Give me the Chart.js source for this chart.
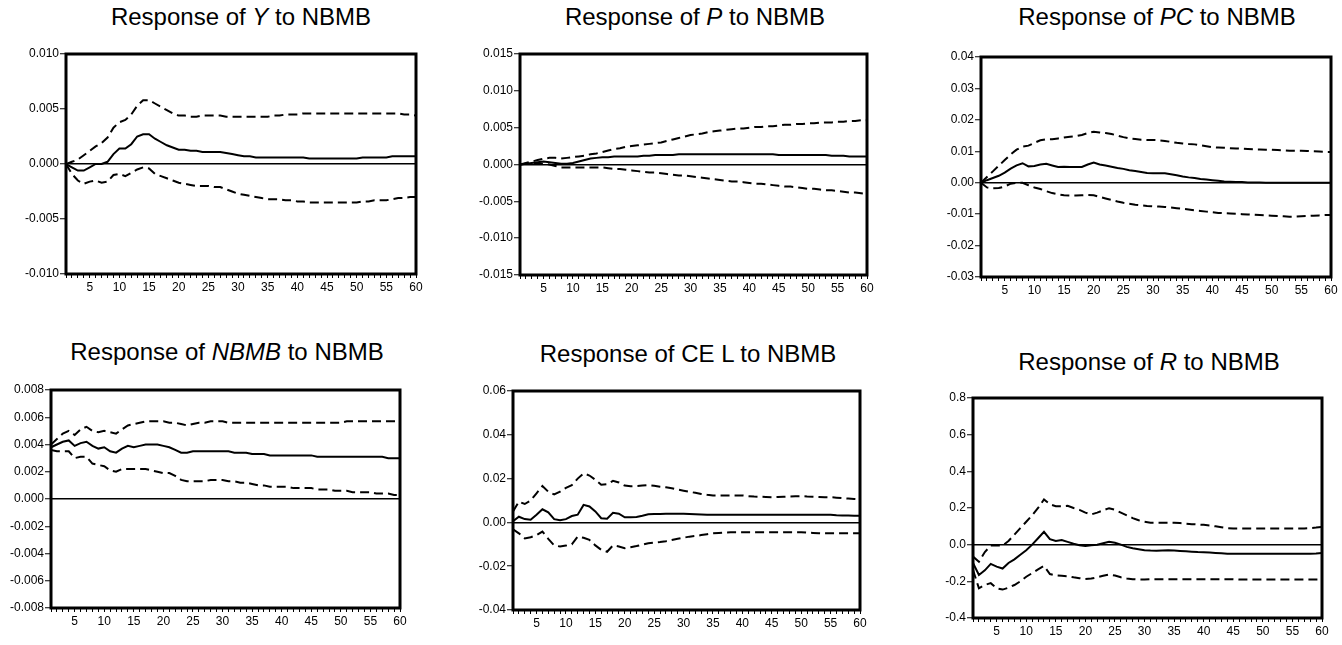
<!DOCTYPE html>
<html>
<head>
<meta charset="utf-8">
<script src="https://cdn.jsdelivr.net/npm/chart.js@4"></script>
<style>
  body { margin: 0; background: #fff; }
  #wrap { position: relative; width: 1342px; height: 645px; overflow: hidden; }
  canvas { position: absolute; }
  .naslov {
    position: absolute; width: 420px; text-align: center;
    font-family: "Liberation Sans", Arial, sans-serif; font-size: 24px;
    line-height: 28px; color: #000; white-space: nowrap;
  }
</style>
</head>
<body>
<div id="wrap"></div>
<script>
// horizon (periods after the shock)
const periods = [
  1, 2, 3, 4, 5, 6, 7, 8, 9, 10, 11, 12, 13, 14, 15, 16, 17, 18, 19, 20,
  21, 22, 23, 24, 25, 26, 27, 28, 29, 30, 31, 32, 33, 34, 35, 36, 37, 38, 39, 40,
  41, 42, 43, 44, 45, 46, 47, 48, 49, 50, 51, 52, 53, 54, 55, 56, 57, 58, 59, 60]

// Y
const respY = [
  0, -0.0003, -0.0006, -0.0006, -0.0003, 0.0000, 0.0000, 0.0002, 0.0009, 0.0014,
  0.0014, 0.0018, 0.0025, 0.0027, 0.0027, 0.0023, 0.0020, 0.0017, 0.0015, 0.0013,
  0.0013, 0.0012, 0.0012, 0.0011, 0.0011, 0.0011, 0.0011, 0.0010, 0.0009, 0.0008,
  0.0007, 0.0007, 0.0006, 0.0006, 0.0006, 0.0006, 0.0006, 0.0006, 0.0006, 0.0006,
  0.0006, 0.0005, 0.0005, 0.0005, 0.0005, 0.0005, 0.0005, 0.0005, 0.0005, 0.0005,
  0.0006, 0.0006, 0.0006, 0.0006, 0.0006, 0.0007, 0.0007, 0.0007, 0.0007, 0.0007]
const hiY = [
  0, 0.0002, 0.0004, 0.0008, 0.0012, 0.0016, 0.0019, 0.0024, 0.0033, 0.0038,
  0.0040, 0.0045, 0.0053, 0.0058, 0.0058, 0.0055, 0.0052, 0.0049, 0.0046, 0.0044,
  0.0044, 0.0043, 0.0043, 0.0044, 0.0044, 0.0044, 0.0044, 0.0043, 0.0043, 0.0043,
  0.0043, 0.0043, 0.0043, 0.0043, 0.0043, 0.0044, 0.0044, 0.0045, 0.0045, 0.0045,
  0.0046, 0.0046, 0.0046, 0.0046, 0.0046, 0.0046, 0.0046, 0.0046, 0.0046, 0.0046,
  0.0046, 0.0046, 0.0046, 0.0046, 0.0046, 0.0046, 0.0046, 0.0045, 0.0045, 0.0044]
const loY = [
  0, -0.0009, -0.0015, -0.0018, -0.0016, -0.0015, -0.0017, -0.0016, -0.0010, -0.0009,
  -0.0011, -0.0008, -0.0005, -0.0003, -0.0004, -0.0009, -0.0011, -0.0013, -0.0015, -0.0017,
  -0.0018, -0.0019, -0.0020, -0.0020, -0.0020, -0.0021, -0.0021, -0.0023, -0.0025, -0.0027,
  -0.0028, -0.0029, -0.0030, -0.0031, -0.0032, -0.0032, -0.0032, -0.0033, -0.0033, -0.0034,
  -0.0034, -0.0035, -0.0035, -0.0035, -0.0035, -0.0035, -0.0035, -0.0035, -0.0035, -0.0035,
  -0.0034, -0.0034, -0.0033, -0.0033, -0.0033, -0.0032, -0.0031, -0.0031, -0.0030, -0.0030]

// P
const respP = [
  0, 0.0001, 0.0002, 0.0003, 0.0004, 0.0003, 0.0002, 0.0001, 0.0001, 0.0002,
  0.0004, 0.0006, 0.0008, 0.0009, 0.0010, 0.0010, 0.0011, 0.0011, 0.0011, 0.0011,
  0.0011, 0.0012, 0.0012, 0.0013, 0.0013, 0.0013, 0.0013, 0.0014, 0.0014, 0.0014,
  0.0014, 0.0014, 0.0014, 0.0014, 0.0014, 0.0014, 0.0014, 0.0014, 0.0014, 0.0014,
  0.0014, 0.0014, 0.0014, 0.0014, 0.0013, 0.0013, 0.0013, 0.0013, 0.0013, 0.0013,
  0.0013, 0.0013, 0.0013, 0.0012, 0.0012, 0.0012, 0.0011, 0.0011, 0.0011, 0.0011]
const hiP = [
  0, 0.0002, 0.0004, 0.0006, 0.0008, 0.0009, 0.0009, 0.0008, 0.0009, 0.0010,
  0.0011, 0.0012, 0.0014, 0.0015, 0.0017, 0.0019, 0.0021, 0.0022, 0.0024, 0.0025,
  0.0026, 0.0027, 0.0028, 0.0029, 0.0030, 0.0032, 0.0034, 0.0036, 0.0038, 0.0040,
  0.0041, 0.0042, 0.0044, 0.0045, 0.0046, 0.0047, 0.0048, 0.0049, 0.0049, 0.0050,
  0.0051, 0.0051, 0.0052, 0.0052, 0.0053, 0.0054, 0.0054, 0.0055, 0.0055, 0.0056,
  0.0056, 0.0057, 0.0057, 0.0057, 0.0058, 0.0058, 0.0059, 0.0059, 0.0060, 0.0060]
const loP = [
  0, 0.0001, 0.0002, 0.0002, 0.0001, 0.0000, -0.0002, -0.0004, -0.0004, -0.0004,
  -0.0004, -0.0004, -0.0004, -0.0004, -0.0004, -0.0005, -0.0006, -0.0006, -0.0007, -0.0008,
  -0.0009, -0.0010, -0.0011, -0.0011, -0.0012, -0.0013, -0.0014, -0.0015, -0.0015, -0.0016,
  -0.0017, -0.0018, -0.0019, -0.0020, -0.0021, -0.0022, -0.0023, -0.0023, -0.0024, -0.0025,
  -0.0026, -0.0026, -0.0027, -0.0028, -0.0029, -0.0030, -0.0030, -0.0031, -0.0032, -0.0033,
  -0.0033, -0.0034, -0.0035, -0.0035, -0.0036, -0.0037, -0.0038, -0.0038, -0.0039, -0.0040]

// PC
const respPC = [
  0, 0.0008, 0.0015, 0.0022, 0.0032, 0.0045, 0.0055, 0.0062, 0.0052, 0.0053,
  0.0058, 0.0060, 0.0055, 0.0050, 0.0051, 0.0050, 0.0050, 0.0050, 0.0058, 0.0064,
  0.0058, 0.0055, 0.0051, 0.0047, 0.0044, 0.0040, 0.0037, 0.0034, 0.0031, 0.0030,
  0.0030, 0.0030, 0.0027, 0.0024, 0.0020, 0.0017, 0.0015, 0.0012, 0.0010, 0.0008,
  0.0006, 0.0004, 0.0003, 0.0002, 0.0002, 0.0001, 0.0001, 0.0001, 0.0000, 0.0000,
  0.0000, 0.0000, 0.0000, 0.0000, 0.0000, 0.0000, 0.0000, 0.0000, 0.0000, 0.0000]
const hiPC = [
  0, 0.0018, 0.0036, 0.0054, 0.0072, 0.0090, 0.0105, 0.0115, 0.0118, 0.0127,
  0.0135, 0.0138, 0.0138, 0.0141, 0.0144, 0.0146, 0.0148, 0.0152, 0.0158, 0.0162,
  0.0160, 0.0158, 0.0155, 0.0150, 0.0145, 0.0141, 0.0139, 0.0137, 0.0136, 0.0136,
  0.0135, 0.0133, 0.0130, 0.0127, 0.0125, 0.0123, 0.0122, 0.0119, 0.0116, 0.0113,
  0.0112, 0.0111, 0.0110, 0.0109, 0.0108, 0.0107, 0.0106, 0.0106, 0.0105, 0.0105,
  0.0104, 0.0103, 0.0102, 0.0102, 0.0102, 0.0101, 0.0100, 0.0099, 0.0098, 0.0098]
const loPC = [
  0, -0.0015, -0.0018, -0.0017, -0.0012, -0.0003, 0.0000, 0.0000, -0.0008, -0.0015,
  -0.0020, -0.0027, -0.0033, -0.0037, -0.0040, -0.0041, -0.0041, -0.0040, -0.0039, -0.0040,
  -0.0045, -0.0050, -0.0055, -0.0060, -0.0064, -0.0067, -0.0070, -0.0072, -0.0074, -0.0075,
  -0.0076, -0.0077, -0.0079, -0.0081, -0.0083, -0.0085, -0.0088, -0.0090, -0.0092, -0.0094,
  -0.0096, -0.0097, -0.0098, -0.0099, -0.0100, -0.0101, -0.0102, -0.0103, -0.0104, -0.0105,
  -0.0106, -0.0107, -0.0108, -0.0108, -0.0107, -0.0106, -0.0105, -0.0104, -0.0103, -0.0103]

// NBMB
const respNB = [
  0.0038, 0.0040, 0.0042, 0.0043, 0.0039, 0.0041, 0.0042, 0.0039, 0.0037, 0.0038,
  0.0035, 0.0034, 0.0037, 0.0039, 0.0038, 0.0039, 0.0040, 0.0040, 0.0040, 0.0039,
  0.0038, 0.0036, 0.0034, 0.0034, 0.0035, 0.0035, 0.0035, 0.0035, 0.0035, 0.0035,
  0.0035, 0.0034, 0.0034, 0.0034, 0.0033, 0.0033, 0.0033, 0.0032, 0.0032, 0.0032,
  0.0032, 0.0032, 0.0032, 0.0032, 0.0032, 0.0031, 0.0031, 0.0031, 0.0031, 0.0031,
  0.0031, 0.0031, 0.0031, 0.0031, 0.0031, 0.0031, 0.0031, 0.0030, 0.0030, 0.0030]
const hiNB = [
  0.0040, 0.0044, 0.0048, 0.0050, 0.0047, 0.0051, 0.0053, 0.0050, 0.0049, 0.0050,
  0.0049, 0.0048, 0.0051, 0.0054, 0.0055, 0.0056, 0.0057, 0.0057, 0.0057, 0.0057,
  0.0056, 0.0056, 0.0055, 0.0054, 0.0055, 0.0056, 0.0056, 0.0057, 0.0057, 0.0057,
  0.0056, 0.0056, 0.0056, 0.0056, 0.0056, 0.0056, 0.0056, 0.0056, 0.0056, 0.0056,
  0.0056, 0.0056, 0.0056, 0.0056, 0.0056, 0.0056, 0.0056, 0.0056, 0.0056, 0.0056,
  0.0057, 0.0057, 0.0057, 0.0057, 0.0057, 0.0057, 0.0057, 0.0057, 0.0057, 0.0057]
const loNB = [
  0.0036, 0.0035, 0.0035, 0.0035, 0.0030, 0.0031, 0.0031, 0.0026, 0.0025, 0.0024,
  0.0021, 0.0020, 0.0022, 0.0022, 0.0022, 0.0022, 0.0022, 0.0021, 0.0020, 0.0019,
  0.0019, 0.0017, 0.0014, 0.0013, 0.0013, 0.0013, 0.0013, 0.0014, 0.0014, 0.0014,
  0.0013, 0.0013, 0.0012, 0.0012, 0.0011, 0.0010, 0.0010, 0.0009, 0.0009, 0.0009,
  0.0009, 0.0008, 0.0008, 0.0008, 0.0008, 0.0007, 0.0007, 0.0007, 0.0006, 0.0006,
  0.0006, 0.0005, 0.0005, 0.0005, 0.0005, 0.0004, 0.0004, 0.0004, 0.0003, 0.0003]

// CE L
const respCE = [
  0.0005, 0.0026, 0.0015, 0.0012, 0.0035, 0.0060, 0.0046, 0.0015, 0.0010, 0.0015,
  0.0029, 0.0035, 0.0080, 0.0073, 0.0050, 0.0019, 0.0017, 0.0044, 0.0040, 0.0023,
  0.0024, 0.0025, 0.0030, 0.0037, 0.0038, 0.0038, 0.0039, 0.0040, 0.0040, 0.0039,
  0.0038, 0.0037, 0.0036, 0.0035, 0.0035, 0.0035, 0.0035, 0.0035, 0.0035, 0.0035,
  0.0035, 0.0035, 0.0035, 0.0035, 0.0035, 0.0035, 0.0035, 0.0035, 0.0035, 0.0035,
  0.0035, 0.0035, 0.0035, 0.0035, 0.0035, 0.0033, 0.0032, 0.0031, 0.0030, 0.0030]
const hiCE = [
  0.0050, 0.0095, 0.0084, 0.0100, 0.0133, 0.0166, 0.0140, 0.0128, 0.0140, 0.0158,
  0.0170, 0.0200, 0.0224, 0.0214, 0.0195, 0.0172, 0.0175, 0.0190, 0.0182, 0.0168,
  0.0165, 0.0166, 0.0168, 0.0170, 0.0167, 0.0163, 0.0160, 0.0156, 0.0150, 0.0145,
  0.0140, 0.0135, 0.0130, 0.0126, 0.0123, 0.0123, 0.0123, 0.0123, 0.0123, 0.0123,
  0.0120, 0.0118, 0.0117, 0.0116, 0.0115, 0.0116, 0.0117, 0.0118, 0.0119, 0.0120,
  0.0118, 0.0117, 0.0116, 0.0115, 0.0115, 0.0113, 0.0111, 0.0109, 0.0107, 0.0105]
const loCE = [
  -0.0032, -0.0050, -0.0073, -0.0068, -0.0058, -0.0042, -0.0075, -0.0105, -0.0110, -0.0106,
  -0.0100, -0.0065, -0.0070, -0.0080, -0.0105, -0.0125, -0.0134, -0.0105, -0.0110, -0.0118,
  -0.0113, -0.0108, -0.0102, -0.0095, -0.0092, -0.0090, -0.0086, -0.0080, -0.0075, -0.0070,
  -0.0065, -0.0062, -0.0058, -0.0054, -0.0050, -0.0048, -0.0046, -0.0045, -0.0045, -0.0045,
  -0.0045, -0.0045, -0.0045, -0.0045, -0.0045, -0.0045, -0.0045, -0.0045, -0.0045, -0.0045,
  -0.0047, -0.0048, -0.0049, -0.0050, -0.0050, -0.0050, -0.0050, -0.0050, -0.0050, -0.0050]

// R
const respR = [
  -0.100, -0.165, -0.140, -0.105, -0.120, -0.130, -0.100, -0.080, -0.055, -0.030,
  0.000, 0.035, 0.070, 0.030, 0.020, 0.025, 0.015, 0.005, -0.003, -0.007,
  -0.003, 0.000, 0.008, 0.016, 0.010, 0.000, -0.012, -0.020, -0.025, -0.030,
  -0.032, -0.033, -0.032, -0.031, -0.032, -0.034, -0.036, -0.038, -0.040, -0.041,
  -0.043, -0.045, -0.047, -0.049, -0.050, -0.050, -0.050, -0.050, -0.050, -0.050,
  -0.050, -0.050, -0.050, -0.050, -0.050, -0.050, -0.050, -0.050, -0.048, -0.045]
const hiR = [
  -0.065, -0.093, -0.040, -0.005, -0.005, -0.005, 0.020, 0.055, 0.090, 0.125,
  0.160, 0.200, 0.247, 0.220, 0.210, 0.210, 0.212, 0.200, 0.190, 0.175,
  0.165, 0.175, 0.187, 0.199, 0.190, 0.175, 0.160, 0.145, 0.133, 0.125,
  0.120, 0.120, 0.120, 0.120, 0.120, 0.118, 0.115, 0.112, 0.110, 0.108,
  0.105, 0.100, 0.095, 0.090, 0.088, 0.088, 0.088, 0.088, 0.088, 0.088,
  0.088, 0.088, 0.088, 0.088, 0.088, 0.088, 0.088, 0.090, 0.093, 0.097]
const loR = [
  -0.138, -0.238, -0.220, -0.210, -0.238, -0.245, -0.235, -0.220, -0.200, -0.175,
  -0.155, -0.135, -0.116, -0.160, -0.168, -0.170, -0.172, -0.178, -0.183, -0.187,
  -0.185, -0.178, -0.170, -0.163, -0.168, -0.178, -0.185, -0.188, -0.190, -0.190,
  -0.188, -0.188, -0.188, -0.188, -0.188, -0.188, -0.188, -0.188, -0.188, -0.188,
  -0.188, -0.188, -0.188, -0.188, -0.188, -0.190, -0.190, -0.190, -0.190, -0.190,
  -0.190, -0.190, -0.190, -0.190, -0.190, -0.190, -0.190, -0.190, -0.190, -0.190]

// panel titles (html so the variable name can be italic)
const titles = [
  'Response of <i>Y</i> to NBMB',
  'Response of <i>P</i> to NBMB',
  'Response of <i>PC</i> to NBMB',
  'Response of <i>NBMB</i> to NBMB',
  'Response of CE L to NBMB',
  'Response of <i>R</i> to NBMB'
]
// y axis: min, max, step, decimals
const yMins = [-0.010, -0.015, -0.03, -0.008, -0.04, -0.4]
const yMaxs = [0.010, 0.015, 0.04, 0.008, 0.06, 0.8]
const ySteps = [0.005, 0.005, 0.01, 0.002, 0.02, 0.2]
const yDecimals = [3, 3, 2, 3, 2, 1]

window.onload = function () {

  const series = [
    [loY, respY, hiY],
    [loP, respP, hiP],
    [loPC, respPC, hiPC],
    [loNB, respNB, hiNB],
    [loCE, respCE, hiCE],
    [loR, respR, hiR]
  ]

  // plot boxes in page pixels: left, top, right, bottom
  const boxes = [
    [66, 54, 416, 274],
    [520, 54, 867, 275],
    [981, 57, 1331, 277],
    [51, 390, 400, 608],
    [513, 391, 860, 610],
    [973, 398, 1322, 618]
  ]
  const titlePos = [[241, 17], [695, 17], [1157, 17], [227, 352], [688, 354], [1149, 362]]

  const yW = 60, xH = 25, padTop = 10, padRight = 12
  const wrap = document.getElementById('wrap')
  const font = { family: '"Liberation Sans", Arial, sans-serif', size: 12 }

  // thick frame around the plot area
  const okvir = {
    id: 'okvir',
    afterDraw(chart) {
      const a = chart.chartArea
      const ctx = chart.ctx
      ctx.save()
      ctx.strokeStyle = '#000'
      ctx.lineWidth = 3
      ctx.strokeRect(a.left, a.top, a.right - a.left, a.bottom - a.top)
      ctx.restore()
    }
  }

  for (let i = 0; i < 6; i++) {
    const b = boxes[i]

    let t = document.createElement('div')
    t.className = 'naslov'
    t.innerHTML = titles[i]
    t.style.left = (titlePos[i][0] - 210) + 'px'
    t.style.top = (titlePos[i][1] - 14) + 'px'
    wrap.appendChild(t)

    let c = document.createElement('canvas')
    c.width = b[2] - b[0] + yW + padRight
    c.height = b[3] - b[1] + padTop + xH
    c.style.left = (b[0] - yW) + 'px'
    c.style.top = (b[1] - padTop) + 'px'
    wrap.appendChild(c)

    const toXY = arr => arr.map((v, k) => ({ x: periods[k], y: v }))
    const dec = yDecimals[i]

    new Chart(c, {
      type: 'line',
      data: {
        datasets: [
          { data: toXY(series[i][0]), borderColor: '#000', borderWidth: 2, borderDash: [9, 5], pointRadius: 0 },
          { data: toXY(series[i][1]), borderColor: '#000', borderWidth: 2, pointRadius: 0 },
          { data: toXY(series[i][2]), borderColor: '#000', borderWidth: 2, borderDash: [9, 5], pointRadius: 0 }
        ]
      },
      options: {
        responsive: false,
        animation: false,
        devicePixelRatio: 1,
        layout: { padding: { top: padTop, right: padRight, left: 0, bottom: 0 } },
        plugins: { legend: { display: false }, tooltip: { enabled: false } },
        scales: {
          x: {
            type: 'linear', min: 1, max: 60,
            afterFit: s => { s.height = xH },
            border: { display: false },
            grid: { drawOnChartArea: false, tickLength: 4, tickColor: '#000', tickWidth: 1 },
            ticks: {
              stepSize: 1, autoSkip: false, maxTicksLimit: 100, maxRotation: 0, padding: 2,
              color: '#000', font: font,
              callback: v => (v % 5 === 0 ? String(v) : '')
            }
          },
          y: {
            min: yMins[i], max: yMaxs[i],
            afterFit: s => { s.width = yW },
            border: { display: false },
            grid: {
              drawOnChartArea: true,
              color: ctx => (ctx.tick && Math.abs(ctx.tick.value) < 1e-9 ? '#000' : 'rgba(0,0,0,0)'),
              lineWidth: 1.5,
              tickColor: '#000', tickLength: 6, tickWidth: 1
            },
            ticks: {
              stepSize: ySteps[i], padding: 1, color: '#000', font: font,
              callback: v => (Math.abs(v) < 1e-9 ? 0 : v).toFixed(dec)
            }
          }
        }
      },
      plugins: [okvir]
    })
  }
}
</script>
</body>
</html>
